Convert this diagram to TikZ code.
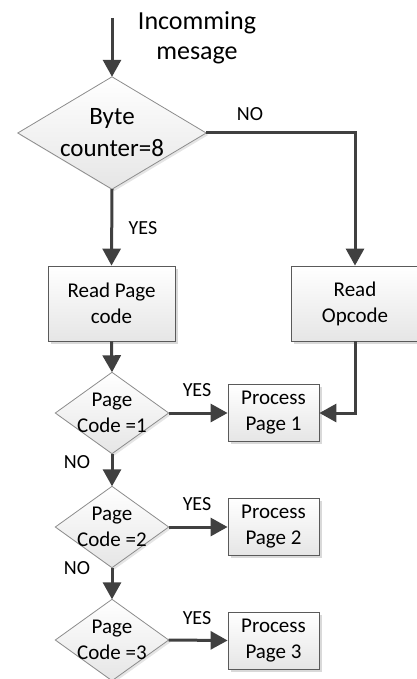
\documentclass[tikz,border=0pt]{standalone}
\usepackage{fontspec}
\setmainfont{Carlito}
\usetikzlibrary{arrows.meta,shadows,backgrounds}
\definecolor{arrowc}{HTML}{404040}
\definecolor{boxline}{HTML}{5A5A5A}
\definecolor{dialine}{HTML}{8C8C8C}
\tikzset{
  boxnode/.style={rectangle, draw=boxline, line width=0.8pt, top color=white, bottom color=black!10,
    drop shadow={shadow xshift=2.5pt, shadow yshift=-2.5pt, fill=black!25, opacity=0.6},
    align=center, inner sep=0pt, text=black, font=\fontsize{21}{26}\selectfont},
  dianode/.style={rectangle, inner sep=0pt, align=center, text=black, font=\fontsize{21}{26}\selectfont},
  diashape/.style={draw=dialine, line width=0.8pt, top color=white, bottom color=black!10,
    drop shadow={shadow xshift=2pt, shadow yshift=-2pt, fill=black!20, opacity=0.5}},
  arr/.style={draw=arrowc, line width=3pt, -{Triangle[length=17pt,width=18pt]}},
  lab/.style={inner sep=0pt, text=black, font=\fontsize{20}{24}\selectfont}
}
\begin{document}
\begin{tikzpicture}[x=1pt,y=-1pt]
\useasboundingbox (0,0) rectangle (416,679);
% nodes
\node[inner sep=0pt, align=center, font=\fontsize{26}{30}\selectfont] (title) at (197,38) {Incomming\\mesage};
\coordinate (start) at (112,18);
\node[dianode, minimum width=188pt, minimum height=112pt, font=\fontsize{25}{32}\selectfont] (d1) at (112,133) {Byte\\counter=8};
\node[boxnode, minimum width=127pt, minimum height=75pt] (rp) at (111.5,303.5) {Read Page\\code};
\node[boxnode, minimum width=127pt, minimum height=75pt] (ro) at (355,303.5) {Read\\Opcode};
\node[dianode, minimum width=113pt, minimum height=81pt] (d2) at (112,413) {Page\\Code =1};
\node[dianode, minimum width=113pt, minimum height=81pt] (d3) at (112,527) {Page\\Code =2};
\node[dianode, minimum width=113pt, minimum height=81pt] (d4) at (112,640) {Page\\Code =3};
\node[boxnode, minimum width=91pt, minimum height=57pt] (p1) at (273.5,413) {Process\\Page 1};
\node[boxnode, minimum width=91pt, minimum height=57pt] (p2) at (273.5,527) {Process\\Page 2};
\node[boxnode, minimum width=91pt, minimum height=57pt] (p3) at (273.5,640.5) {Process\\Page 3};
% diamonds on background
\begin{scope}[on background layer]
\foreach \d in {d1,d2,d3,d4}{
  \draw[diashape] (\d.north) -- (\d.east) -- (\d.south) -- (\d.west) -- cycle;
}
\end{scope}
% connectors
\draw[arr] (start) -- (d1.north);
\draw[arr] (d1.south) -- (rp.north);
\draw[arr] (d1.east) -| (ro.north);
\draw[arr] (rp.south) -- (d2.north);
\draw[arr] (d2.east) -- (p1.west);
\draw[arr] (ro.south) |- (p1.east);
\draw[arr] (d2.south) -- (d3.north);
\draw[arr] (d3.east) -- (p2.west);
\draw[arr] (d3.south) -- (d4.north);
\draw[arr] (d4.east) -- (p3.west);
% labels
\node[lab] (l1) at (250,114) {NO};
\node[lab] (l2) at (143,228) {YES};
\node[lab] (l3) at (197,390) {YES};
\node[lab] (l4) at (77,462) {NO};
\node[lab] (l5) at (197,504) {YES};
\node[lab] (l6) at (77,568) {NO};
\node[lab] (l7) at (197,618) {YES};
\end{tikzpicture}
\end{document}
